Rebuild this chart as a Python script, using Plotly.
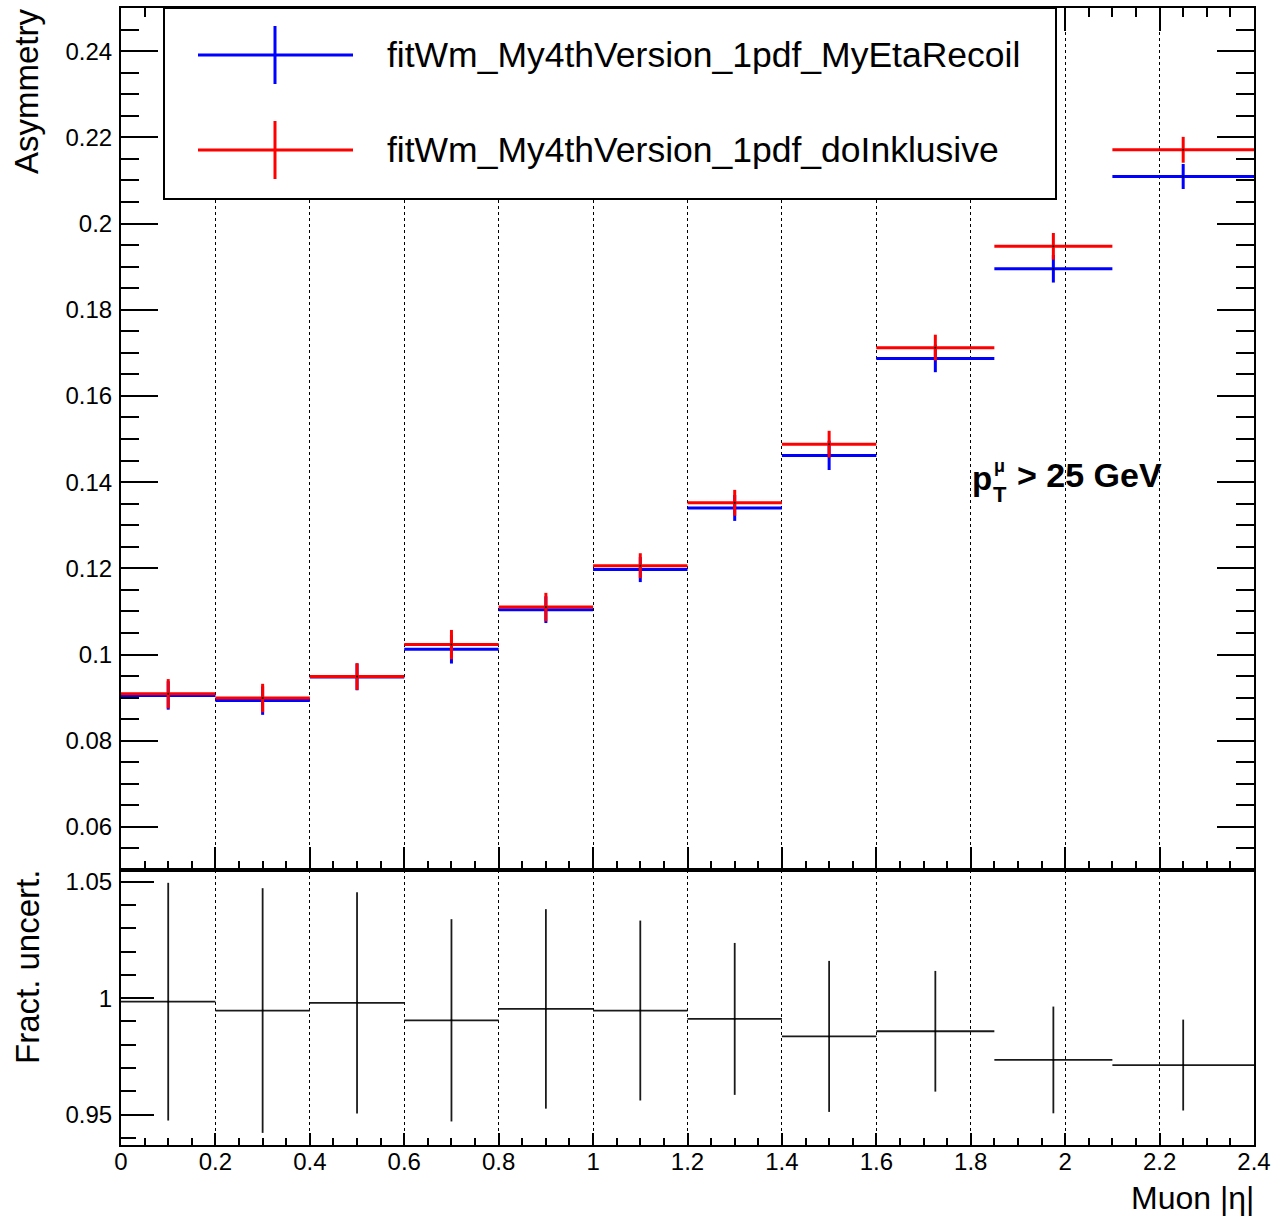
import plotly.graph_objects as go

# ---------------- data ----------------
bin_centers = [0.1, 0.3, 0.5, 0.7, 0.9, 1.1, 1.3, 1.5, 1.725, 1.975, 2.25]
bin_halfwidths = [0.1, 0.1, 0.1, 0.1, 0.1, 0.1, 0.1, 0.1, 0.125, 0.125, 0.15]

asym_myetarecoil = [0.0905, 0.0893, 0.0948, 0.1012, 0.1104, 0.1197, 0.1340, 0.1462, 0.1687, 0.1895, 0.2109]
err_myetarecoil = [0.0033, 0.0033, 0.0031, 0.0033, 0.0031, 0.0029, 0.0030, 0.0034, 0.0032, 0.0032, 0.0029]

asym_doinklusive = [0.0909, 0.0899, 0.0949, 0.1023, 0.1110, 0.1206, 0.1352, 0.1488, 0.1712, 0.1947, 0.2171]
err_doinklusive = [0.0034, 0.0033, 0.0031, 0.0034, 0.0033, 0.0029, 0.0030, 0.0031, 0.0030, 0.0031, 0.0030]

ratio_vals = [0.9985, 0.9947, 0.9980, 0.9905, 0.9954, 0.9947, 0.9911, 0.9836, 0.9858, 0.9735, 0.9713]
ratio_errs = [0.0510, 0.0525, 0.0475, 0.0434, 0.0428, 0.0386, 0.0326, 0.0324, 0.0259, 0.0229, 0.0195]

series_names = ["fitWm_My4thVersion_1pdf_MyEtaRecoil", "fitWm_My4thVersion_1pdf_doInklusive"]

x_tickvals = [0, 0.2, 0.4, 0.6, 0.8, 1.0, 1.2, 1.4, 1.6, 1.8, 2.0, 2.2, 2.4]
x_ticktext = ["0", "0.2", "0.4", "0.6", "0.8", "1", "1.2", "1.4", "1.6", "1.8", "2", "2.2", "2.4"]
ytop_tickvals = [0.06, 0.08, 0.10, 0.12, 0.14, 0.16, 0.18, 0.20, 0.22, 0.24]
ytop_ticktext = ["0.06", "0.08", "0.1", "0.12", "0.14", "0.16", "0.18", "0.2", "0.22", "0.24"]
ybot_tickvals = [0.95, 1.0, 1.05]
ybot_ticktext = ["0.95", "1", "1.05"]

# ---------------- layout helpers ----------------
W, H = 1276, 1218
def px(x):
    return x / W
def py(y):
    return 1 - y / H

FONT = "Liberation Sans, Arial, Helvetica, sans-serif"
BLUE = "#0000ff"
RED = "#ff0000"
RATIO_C = "#1a1a1a"

fig = go.Figure()

# top panel
fig.add_trace(go.Scatter(
    x=bin_centers, y=asym_myetarecoil, mode="markers", name=series_names[0],
    marker=dict(size=2, color="black"),
    error_x=dict(type="data", array=bin_halfwidths, color=BLUE, thickness=3, width=0),
    error_y=dict(type="data", array=err_myetarecoil, color=BLUE, thickness=3, width=0),
    xaxis="x", yaxis="y", showlegend=False))
fig.add_trace(go.Scatter(
    x=bin_centers, y=asym_doinklusive, mode="markers", name=series_names[1],
    marker=dict(size=2, color="black"),
    error_x=dict(type="data", array=bin_halfwidths, color=RED, thickness=3, width=0),
    error_y=dict(type="data", array=err_doinklusive, color=RED, thickness=3, width=0),
    xaxis="x", yaxis="y", showlegend=False))

# bottom panel
fig.add_trace(go.Scatter(
    x=bin_centers, y=ratio_vals, mode="markers", name="ratio",
    marker=dict(size=2, color="black"),
    error_x=dict(type="data", array=bin_halfwidths, color=RATIO_C, thickness=1.8, width=0),
    error_y=dict(type="data", array=ratio_errs, color=RATIO_C, thickness=1.8, width=0),
    xaxis="x2", yaxis="y2", showlegend=False))

x_dom = [px(121), px(1254)]
top_dom = [py(870), py(8)]
bot_dom = [py(1145), py(870)]

common_x = dict(
    range=[0, 2.4], domain=x_dom, tickmode="array", tickvals=x_tickvals, ticktext=x_ticktext,
    showgrid=True, gridcolor="black", griddash="dot", gridwidth=1,
    showline=True, linecolor="black", linewidth=2, zeroline=False, automargin=False,
    tickcolor="black", tickwidth=1.5, ticks="inside",
)

fig.update_layout(
    template="none",
    width=W, height=H, autosize=False, margin=dict(l=0, r=0, t=0, b=0, pad=0),
    paper_bgcolor="white", plot_bgcolor="white",
    font=dict(family=FONT, color="black", size=24),
    xaxis=dict(**common_x, anchor="y", showticklabels=False, mirror="ticks", ticklen=23,
               minor=dict(tickmode="linear", tick0=0, dtick=0.05, ticks="inside", ticklen=9,
                          tickcolor="black", tickwidth=1.5, showgrid=False)),
    yaxis=dict(range=[0.05, 0.25], domain=top_dom, anchor="x", automargin=False,
               tickmode="array", tickvals=ytop_tickvals, ticktext=ytop_ticktext,
               showgrid=False, zeroline=False, showline=True, linecolor="black", linewidth=2,
               mirror="ticks", ticks="inside", ticklen=37, tickcolor="black", tickwidth=1.5,
               tickfont=dict(size=24, family=FONT), ticklabelstandoff=2,
               minor=dict(tickmode="linear", tick0=0.05, dtick=0.005, ticks="inside", ticklen=18,
                          tickcolor="black", tickwidth=1.5, showgrid=False)),
    xaxis2=dict(**common_x, anchor="y2", showticklabels=True, mirror=True, ticklen=12,
                tickfont=dict(size=24, family=FONT), ticklabelstandoff=-6,
                minor=dict(tickmode="linear", tick0=0, dtick=0.05, ticks="inside", ticklen=7,
                           tickcolor="black", tickwidth=1.5, showgrid=False)),
    yaxis2=dict(range=[0.937, 1.055], domain=bot_dom, anchor="x2", automargin=False,
                tickmode="array", tickvals=ybot_tickvals, ticktext=ybot_ticktext,
                showgrid=False, zeroline=False, showline=True, linecolor="black", linewidth=2,
                mirror=True, ticks="inside", ticklen=33, tickcolor="black", tickwidth=1.5,
                tickfont=dict(size=24, family=FONT), ticklabelstandoff=2,
                minor=dict(tickmode="linear", tick0=0.93, dtick=0.01, ticks="inside", ticklen=15,
                           tickcolor="black", tickwidth=1.5, showgrid=False)),
)

shapes = []
# legend box
shapes.append(dict(type="rect", xref="paper", yref="paper",
                   x0=px(164), x1=px(1056), y0=py(199), y1=py(8),
                   fillcolor="white", line=dict(color="black", width=2), layer="above"))
# legend symbols
for color, yc in [(BLUE, 55), (RED, 150)]:
    shapes.append(dict(type="line", xref="paper", yref="paper",
                       x0=px(198), x1=px(353), y0=py(yc), y1=py(yc),
                       line=dict(color=color, width=3), layer="above"))
    shapes.append(dict(type="line", xref="paper", yref="paper",
                       x0=px(275), x1=px(275), y0=py(yc - 29), y1=py(yc + 29),
                       line=dict(color=color, width=3), layer="above"))
fig.update_layout(shapes=shapes)

ann = []
for name, yc in [(series_names[0], 55), (series_names[1], 150)]:
    ann.append(dict(text=name, xref="paper", yref="paper", x=px(385), y=py(yc),
                    xanchor="left", yanchor="middle", showarrow=False,
                    font=dict(size=35.5, family=FONT, color="black")))
# axis titles
ann.append(dict(text="Asymmetry", xref="paper", yref="paper", x=px(26), y=py(6),
                xanchor="center", yanchor="top", textangle=-90, showarrow=False,
                font=dict(size=33, family=FONT)))
ann.append(dict(text="Fract. uncert.", xref="paper", yref="paper", x=px(27), y=py(868),
                xanchor="center", yanchor="top", textangle=-90, showarrow=False,
                font=dict(size=33, family=FONT)))
ann.append(dict(text="Muon |η|", xref="paper", yref="paper", x=px(1256), y=py(1198),
                xanchor="right", yanchor="middle", showarrow=False,
                font=dict(size=32, family=FONT)))
# pT label
ann.append(dict(text="<b>p</b>", xref="paper", yref="paper", x=px(970), y=py(478),
                xanchor="left", yanchor="middle", showarrow=False,
                font=dict(size=33, family=FONT)))
ann.append(dict(text="<b>μ</b>", xref="paper", yref="paper", x=px(992), y=py(466),
                xanchor="left", yanchor="middle", showarrow=False,
                font=dict(size=18, family=FONT)))
ann.append(dict(text="<b>T</b>", xref="paper", yref="paper", x=px(991), y=py(494),
                xanchor="left", yanchor="middle", showarrow=False,
                font=dict(size=22, family=FONT)))
ann.append(dict(text="<b>&gt; 25 GeV</b>", xref="paper", yref="paper", x=px(1015), y=py(475),
                xanchor="left", yanchor="middle", showarrow=False,
                font=dict(size=34, family=FONT)))
fig.update_layout(annotations=ann)

fig.write_html(
    "out.html",
    config={"responsive": False},
    post_script=(
        "document.documentElement.style.overflow='hidden';"
        "document.body.style.overflow='hidden';"
        "document.body.style.margin='0';"
    ),
)
